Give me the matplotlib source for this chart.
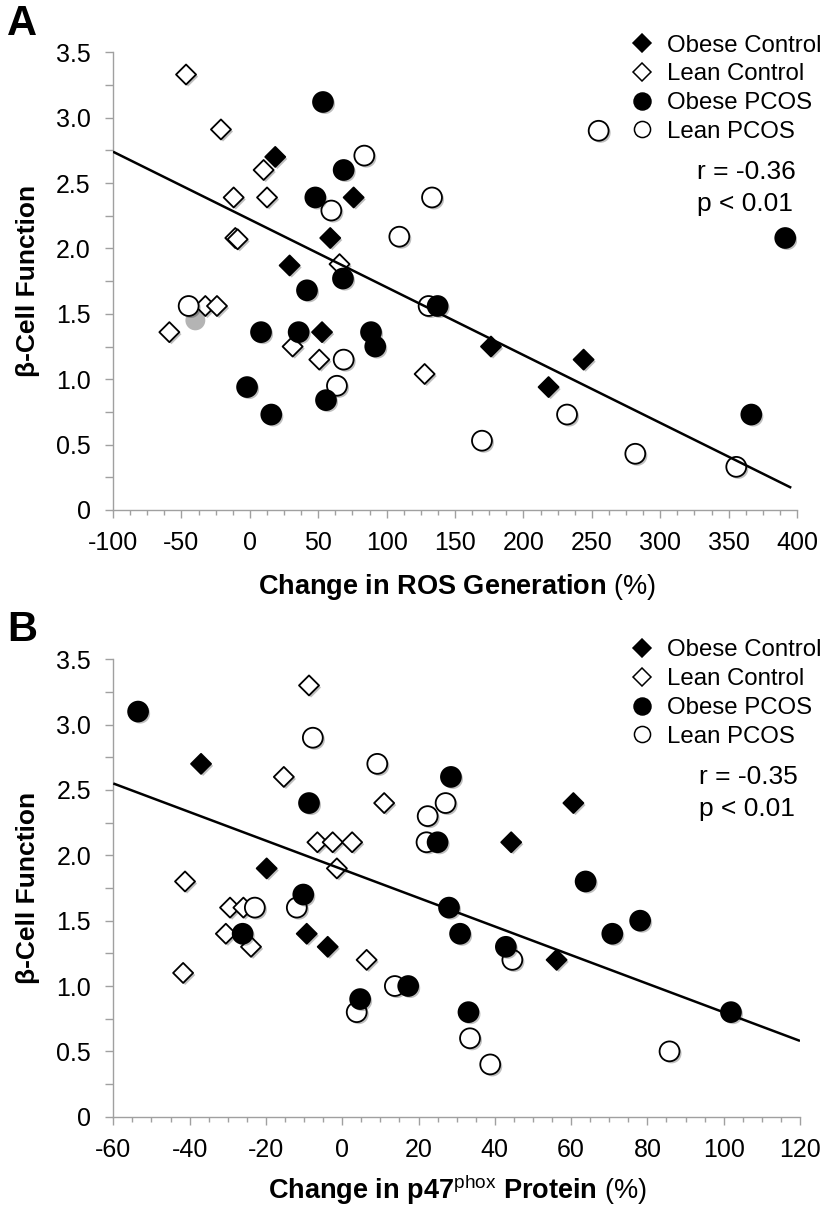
import matplotlib
matplotlib.use("Agg")
import matplotlib.pyplot as plt
import matplotlib.patheffects as pe
from matplotlib.lines import Line2D
from matplotlib.ticker import MultipleLocator, FuncFormatter

plt.rcParams['font.family'] = ['Liberation Sans', 'DejaVu Sans']
plt.rcParams['mathtext.fontset'] = 'custom'
plt.rcParams['mathtext.rm'] = 'Liberation Sans'
plt.rcParams['mathtext.bf'] = 'Liberation Sans:bold'
plt.rcParams['mathtext.it'] = 'Liberation Sans:italic'
plt.rcParams['axes.unicode_minus'] = False

# ---------------- Panel A data: change in ROS generation (%) vs beta-cell function
a_obese_ctrl_x = [18.6, 75.9, 58.8, 29.1, 52.8, 176.3, 244.0, 218.4]
a_obese_ctrl_y = [2.70, 2.39, 2.08, 1.87, 1.36, 1.25, 1.15, 0.94]
a_lean_ctrl_x = [-46.6, -21.1, 10.1, -11.8, 12.6, -10.6, -8.9, 65.6, -32.5, -24.0, -58.8, 31.3, 50.8, 127.8]
a_lean_ctrl_y = [3.33, 2.91, 2.60, 2.39, 2.39, 2.08, 2.07, 1.88, 1.56, 1.56, 1.36, 1.25, 1.15, 1.04]
a_obese_pcos_x = [53.5, 68.6, 47.9, 68.1, 41.8, 8.2, 35.7, 88.6, 91.7, -2.0, 55.7, 15.7, 137.3, 366.6, 391.4]
a_obese_pcos_y = [3.12, 2.60, 2.39, 1.77, 1.68, 1.36, 1.36, 1.36, 1.25, 0.94, 0.84, 0.73, 1.56, 0.73, 2.08]
a_lean_pcos_x = [83.7, 59.6, -44.7, 68.6, 63.7, 130.7, 231.9, 169.7, 281.8, 355.6, 255.0, 133.2, 109.3]
a_lean_pcos_y = [2.71, 2.29, 1.56, 1.15, 0.95, 1.56, 0.73, 0.53, 0.43, 0.33, 2.90, 2.39, 2.09]
a_gray_x = [-39.8]
a_gray_y = [1.45]
a_fit_x = [-100, 395.8]
a_fit_y = [2.74, 0.17]
a_stats = ["r = -0.36", "p < 0.01"]

# ---------------- Panel B data: change in p47phox protein (%) vs beta-cell function
b_obese_ctrl_x = [-37.0, -19.8, -9.3, -3.8, 44.3, 60.6, 56.2]
b_obese_ctrl_y = [2.7, 1.9, 1.4, 1.3, 2.1, 2.4, 1.2]
b_lean_ctrl_x = [-8.7, -15.3, 11.0, -6.5, -2.5, 2.6, -1.4, -41.2, -29.4, -25.9, -30.5, -23.9, 6.4, -41.7]
b_lean_ctrl_y = [3.3, 2.6, 2.4, 2.1, 2.1, 2.1, 1.9, 1.8, 1.6, 1.6, 1.4, 1.3, 1.2, 1.1]
b_obese_pcos_x = [-53.5, -8.7, -10.2, -26.1, 4.7, 28.5, 25.0, 63.8, 28.0, 78.1, 30.9, 42.9, 70.8, 17.3, 33.1, 101.9]
b_obese_pcos_y = [3.1, 2.4, 1.7, 1.4, 0.9, 2.6, 2.1, 1.8, 1.6, 1.5, 1.4, 1.3, 1.4, 1.0, 0.8, 0.8]
b_lean_pcos_x = [-7.7, 9.2, -11.9, -22.9, 3.8, 13.8, 27.1, 22.4, 22.1, 44.6, 33.5, 38.8, 85.8]
b_lean_pcos_y = [2.9, 2.7, 1.6, 1.6, 0.8, 1.0, 2.4, 2.3, 2.1, 1.2, 0.6, 0.4, 0.5]
b_fit_x = [-60, 120]
b_fit_y = [2.55, 0.58]
b_stats = ["r = -0.35", "p < 0.01"]

legend_labels = ["Obese Control", "Lean Control", "Obese PCOS", "Lean PCOS"]

W, H = 826, 1211
fig = plt.figure(figsize=(W / 100, H / 100), dpi=100)

def fx(px):
    return px / W

def fy(py):
    return 1 - py / H

axA = fig.add_axes([fx(113), fy(510), (797 - 113) / W, (510 - 52.3) / H])
axB = fig.add_axes([fx(113.3), fy(1116.7), (800 - 113.3) / W, (1116.7 - 659.3) / H])

shadow = [pe.SimplePatchShadow(offset=(1.5, -1.5), shadow_rgbFace='k', alpha=0.25), pe.Normal()]
S_CIRC = 205
S_DIAM = 104
EW = 1.3

def yfmt(v, pos):
    return "0" if abs(v) < 1e-9 else f"{v:.1f}"

def style_axes(ax, xlim, xmaj, xmin):
    ax.set_xlim(*xlim)
    ax.set_ylim(0, 3.5)
    for s in ['top', 'right']:
        ax.spines[s].set_visible(False)
    for s in ['left', 'bottom']:
        ax.spines[s].set_color('#a0a0a0')
        ax.spines[s].set_linewidth(1.0)
    ax.xaxis.set_major_locator(MultipleLocator(xmaj))
    ax.xaxis.set_minor_locator(MultipleLocator(xmin))
    ax.yaxis.set_major_locator(MultipleLocator(0.5))
    ax.yaxis.set_minor_locator(MultipleLocator(0.25))
    ax.yaxis.set_major_formatter(FuncFormatter(yfmt))
    ax.tick_params(axis='x', which='major', direction='out', length=6, width=1,
                   color='#a0a0a0', labelsize=18, pad=9)
    ax.tick_params(axis='x', which='minor', direction='out', length=3.5, width=1, color='#a0a0a0')
    ax.tick_params(axis='y', which='both', direction='out', length=6, width=1,
                   color='#a0a0a0', labelsize=18, pad=10)
    ax.set_facecolor('none')

def draw_panel(ax, oc, lc, op, lp, fit, gray=None):
    ax.scatter(lc[0], lc[1], marker='D', s=S_DIAM, facecolor='white', edgecolor='black',
               linewidths=EW, zorder=3, path_effects=shadow)
    ax.scatter(oc[0], oc[1], marker='D', s=S_DIAM, facecolor='black', edgecolor='black',
               linewidths=EW, zorder=3, path_effects=shadow)
    if gray is not None:
        ax.scatter(gray[0], gray[1], marker='o', s=S_CIRC, facecolor='#b4b4b4', edgecolor='none',
                   zorder=2)
    ax.scatter(lp[0], lp[1], marker='o', s=S_CIRC, facecolor='white', edgecolor='black',
               linewidths=EW, zorder=4, path_effects=shadow)
    ax.scatter(op[0], op[1], marker='o', s=S_CIRC, facecolor='black', edgecolor='black',
               linewidths=EW, zorder=4, path_effects=shadow)
    ax.plot(fit[0], fit[1], color='black', lw=1.8, zorder=5, solid_capstyle='butt')

style_axes(axA, (-100, 400), 50, 12.5)
style_axes(axB, (-60, 120), 20, 5)

draw_panel(axA, (a_obese_ctrl_x, a_obese_ctrl_y), (a_lean_ctrl_x, a_lean_ctrl_y),
           (a_obese_pcos_x, a_obese_pcos_y), (a_lean_pcos_x, a_lean_pcos_y),
           (a_fit_x, a_fit_y), gray=(a_gray_x, a_gray_y))
draw_panel(axB, (b_obese_ctrl_x, b_obese_ctrl_y), (b_lean_ctrl_x, b_lean_ctrl_y),
           (b_obese_pcos_x, b_obese_pcos_y), (b_lean_pcos_x, b_lean_pcos_y),
           (b_fit_x, b_fit_y))

def handles():
    return [
        Line2D([], [], ls='none', marker='D', ms=8.8, mfc='black', mec='black', mew=1.1),
        Line2D([], [], ls='none', marker='D', ms=8.8, mfc='white', mec='black', mew=1.1),
        Line2D([], [], ls='none', marker='o', ms=12.2, mfc='black', mec='black', mew=1.1),
        Line2D([], [], ls='none', marker='o', ms=11.6, mfc='white', mec='black', mew=1.1),
    ]

for ax, top_px, stats, base1, left_txt in [(axA, 34.5, a_stats, 179, 697), (axB, 639.5, b_stats, 784, 699)]:
    ax.legend(handles(), legend_labels, loc='upper left',
              bbox_to_anchor=(fx(630), fy(top_px)), bbox_transform=fig.transFigure,
              frameon=False, borderpad=0, borderaxespad=0, handlelength=1.0,
              handletextpad=0.52, labelspacing=0.28, fontsize=17.3)
    fig.text(fx(left_txt), fy(base1), stats[0], fontsize=19, va='baseline', ha='left')
    fig.text(fx(left_txt), fy(base1 + 32), stats[1], fontsize=19, va='baseline', ha='left')

# axis titles
fig.text(fx(28), fy((52.3 + 510) / 2), 'β-Cell Function', rotation=90, ha='center', va='center',
         fontsize=19, fontweight='bold')
fig.text(fx(28), fy((659.3 + 1116.7) / 2), 'β-Cell Function', rotation=90, ha='center', va='center',
         fontsize=19, fontweight='bold')
fig.text(fx(457), fy(594), r'$\mathbf{Change\ in\ ROS\ Generation}\ \mathrm{(\%)}$',
         ha='center', va='baseline', fontsize=19.5)
fig.text(fx(457), fy(1199), r'$\mathbf{Change\ in\ p47}^{\mathrm{phox}}\mathbf{\ Protein}\ \mathrm{(\%)}$',
         ha='center', va='baseline', fontsize=19.5)

# panel letters
fig.text(fx(7), fy(35), 'A', fontsize=30, fontweight='bold', va='baseline', ha='left')
fig.text(fx(7), fy(641), 'B', fontsize=30, fontweight='bold', va='baseline', ha='left')

fig.savefig('out.png', dpi=100, facecolor='white')
